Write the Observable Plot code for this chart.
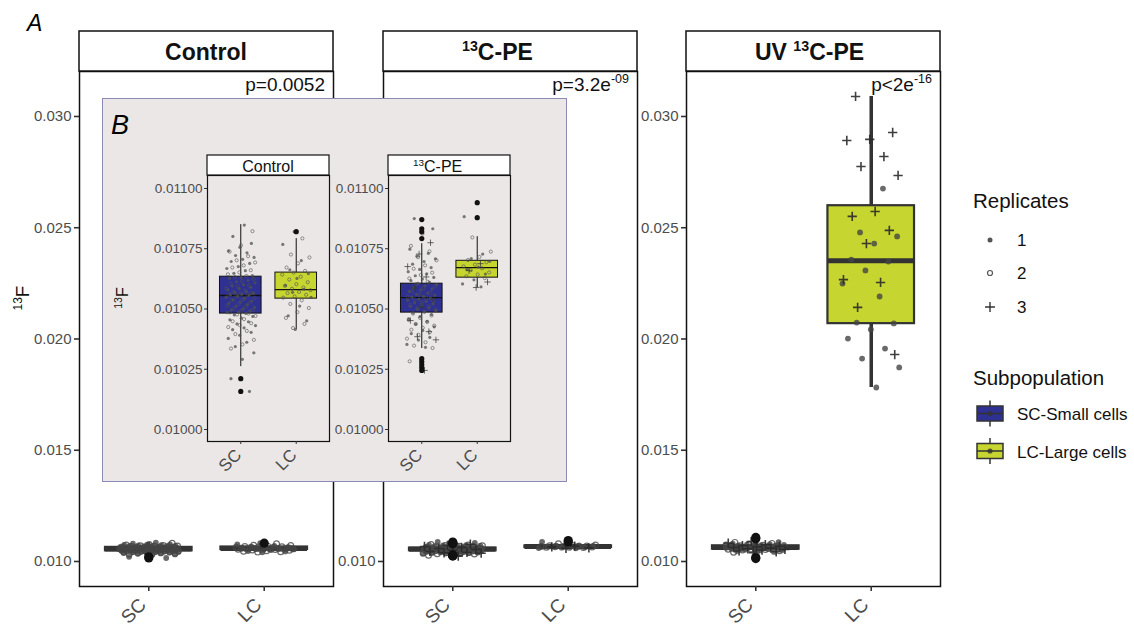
<!DOCTYPE html>
<html><head><meta charset="utf-8">
<script src="https://cdn.jsdelivr.net/npm/d3@7"></script>
<script src="https://cdn.jsdelivr.net/npm/@observablehq/plot@0.6"></script>
<style>
body{margin:0;background:#fff;}
#root{position:relative;width:1134px;height:628px;overflow:hidden;background:#fff;font-family:"Liberation Sans",Arial,Helvetica,sans-serif;}
</style></head><body><div id="root"></div>
<script>
// ---------------- DATA ----------------
const subpopulations = ["SC", "LC"];
const subpopulationLabels = ["SC-Small cells", "LC-Large cells"];
const subColors = ["#2E3192", "#C6D530"];
const treatments = ["Control", "13C-PE", "UV 13C-PE"];
const pValueText = ["p=0.0052", "p=3.2e", "p<2e"];
const pValueExp = ["", "-09", "-16"];
const replicates = ["1", "2", "3"];
const mainTicks = [0.010, 0.015, 0.020, 0.025, 0.030];
const insetTicks = [0.01000, 0.01025, 0.01050, 0.01075, 0.01100];

// groups: Control SC, Control LC, 13C-PE SC, 13C-PE LC, UV SC, UV LC
const groupTreatment = [0, 0, 1, 1, 2, 2];
const groupSub = [0, 1, 0, 1, 0, 1];
const boxQ1 =     [0.010481, 0.010543, 0.010485, 0.010630, 0.010555, 0.020690];
const boxMedian = [0.010556, 0.010580, 0.010547, 0.010672, 0.010630, 0.023520];
const boxQ3 =     [0.010634, 0.010651, 0.010605, 0.010700, 0.010705, 0.025990];
const whiskerLow =  [0.010261, 0.010415, 0.010336, 0.010589, 0.010396, 0.017820];
const whiskerHigh = [0.010850, 0.010792, 0.010771, 0.010800, 0.010894, 0.030900];
const outliers = [
  [0.010211, 0.010158],
  [0.010821],
  [0.010871, 0.010833, 0.010820, 0.010792, 0.010294, 0.010281, 0.010269, 0.010257, 0.010245],
  [0.010941, 0.010879],
  [0.011080, 0.011020, 0.010180, 0.010130],
  []
];

// jittered cells, by replicate
const controlSC_rep1 = [0.010848,0.010801,0.010772,0.010756,0.010741,0.010733,0.010722,0.010714,0.010706,0.010697,0.010689,0.010676,0.010668,0.010659,0.010648,0.010639,
  0.010631,0.010627,0.010619,0.010613,0.010608,0.010601,0.010596,0.010590,0.010584,0.010579,0.010573,0.010569,0.010565,0.010561,0.010559,0.010557,
  0.010553,0.010549,0.010544,0.010538,0.010533,0.010529,0.010523,0.010518,0.010512,0.010507,0.010501,0.010497,0.010492,0.010488,0.010485,0.010482,
  0.010476,0.010469,0.010462,0.010455,0.010447,0.010438,0.010431,0.010422,0.010414,0.010403,0.010391,0.010378,0.010362,0.010344,0.010318,0.010291,
  0.010211,0.010158];
const controlSC_rep2 = [0.010823,0.010764,0.010738,0.010719,0.010702,0.010693,0.010681,0.010672,0.010661,0.010652,0.010644,0.010637,
  0.010632,0.010624,0.010616,0.010606,0.010598,0.010593,0.010586,0.010577,0.010571,0.010566,0.010563,0.010560,0.010558,
  0.010554,0.010547,0.010541,0.010536,0.010527,0.010521,0.010515,0.010509,0.010503,0.010495,0.010490,0.010486,0.010481,
  0.010477,0.010471,0.010458,0.010449,0.010441,0.010433,0.010425,0.010409,0.010396,0.010372,0.010353,0.010336];
const controlLC_rep1 = [0.010821,0.010768,0.010701,0.010662,0.010647,0.010627,0.010598,0.010582,0.010569,0.010548,0.010512,0.010472,0.010451,0.010415];
const controlLC_rep2 = [0.010793,0.010726,0.010714,0.010689,0.010672,0.010658,0.010651,0.010643,0.010634,0.010622,0.010611,0.010603,0.010596,0.010589,
  0.010584,0.010578,0.010571,0.010566,0.010559,0.010552,0.010547,0.010536,0.010521,0.010504,0.010487,0.010463,0.010438,0.010421];
const pe13SC_rep1 = [0.010875,0.010833,0.010822,0.010748,0.010731,0.010719,0.010708,0.010697,0.010686,0.010672,0.010664,0.010655,0.010646,0.010638,
  0.010631,0.010624,0.010618,0.010611,0.010606,0.010601,0.010596,0.010589,0.010583,0.010578,0.010572,0.010566,0.010561,0.010557,0.010552,0.010549,
  0.010545,0.010541,0.010536,0.010531,0.010526,0.010521,0.010516,0.010511,0.010505,0.010499,0.010494,0.010489,0.010484,0.010477,0.010468,0.010459,
  0.010449,0.010437,0.010426,0.010411,0.010398,0.010382,0.010371,0.010353,0.010341];
const pe13SC_rep2 = [0.010812,0.010762,0.010739,0.010715,0.010702,0.010681,0.010667,0.010651,0.010641,0.010627,0.010613,0.010603,0.010594,0.010586,
  0.010575,0.010568,0.010559,0.010551,0.010546,0.010539,0.010533,0.010527,0.010518,0.010512,0.010503,0.010496,0.010488,0.010481,0.010473,0.010463,
  0.010455,0.010446,0.010438,0.010431,0.010422,0.010414,0.010404,0.010393,0.010377,0.010362,0.010348,0.010338,0.010287,0.010283];
const pe13SC_rep3 = [0.010775,0.010728,0.010676,0.010633,0.010587,0.010543,0.010508,0.010452,0.010406,0.010385,0.010372,0.010245];
const pe13LC_rep1 = [0.010883,0.010728,0.010709,0.010698,0.010674,0.010664,0.010645,0.010621,0.010604,0.010592];
const pe13LC_rep2 = [0.010797,0.010738,0.010716,0.010703,0.010694,0.010684,0.010677,0.010669,0.010661,0.010652,0.010643,0.010636,0.010628];
const pe13LC_rep3 = [0.010688,0.010659,0.010612,0.010589];
const uvSC_rep1 = [0.010872,0.010841,0.010803,0.010781,0.010762,0.010749,0.010733,0.010721,0.010712,0.010701,0.010692,0.010681,0.010672,0.010661,0.010652,
  0.010643,0.010636,0.010627,0.010618,0.010609,0.010598,0.010587,0.010574,0.010563,0.010552,0.010538,0.010521,0.010497,0.010468,0.010431];
const uvSC_rep2 = [0.010857,0.010812,0.010774,0.010745,0.010727,0.010708,0.010694,0.010677,0.010664,0.010648,0.010633,0.010621,0.010606,0.010594,0.010581,
  0.010566,0.010553,0.010541,0.010519,0.010488,0.010452,0.010413];
const uvSC_rep3 = [0.010894,0.010826,0.010758,0.010716,0.010685,0.010657,0.010629,0.010602,0.010571,0.010546,0.010507,0.010474,0.010438,0.010396];
const uvLC_rep1 = [0.02676,0.02479,0.02461,0.02429,0.02357,0.02348,0.02308,0.02249,0.02191,0.02074,0.02070,0.02043,0.02002,0.01957,0.01912,0.01872,0.01782];
const uvLC_rep3 = [0.03090,0.02928,0.02897,0.02892,0.02820,0.02775,0.02735,0.02573,0.02551,0.02488,0.02429,0.02267,0.02254,0.02142,0.01930];

const groupPoints = [
  [controlSC_rep1, controlSC_rep2, []],
  [controlLC_rep1, controlLC_rep2, []],
  [pe13SC_rep1, pe13SC_rep2, pe13SC_rep3],
  [pe13LC_rep1, pe13LC_rep2, pe13LC_rep3],
  [uvSC_rep1, uvSC_rep2, uvSC_rep3],
  [uvLC_rep1, [], uvLC_rep3]
];

// ---------------- DRAWING ----------------
const FONT = '"Liberation Sans", Arial, Helvetica, sans-serif';
const root = document.getElementById("root");
function place(el, left, top) {
  el.style.position = "absolute"; el.style.left = left + "px"; el.style.top = top + "px";
  root.appendChild(el);
}
// deterministic jitter (horizontal spread only)
function jitter(i, seed, w) {
  const u = ((i + 1) * 0.6180339887 + seed * 0.2718281) % 1;
  return (u - 0.5) * 2 * w;
}

function panelPlot(t, c) {
  const gs = [0, 1, 2, 3, 4, 5].filter(g => groupTreatment[g] === t);
  const boxes = gs.map(g => ({x: groupSub[g] + 1, q1: boxQ1[g], med: boxMedian[g], q3: boxQ3[g],
    lo: whiskerLow[g], hi: whiskerHigh[g], fill: subColors[groupSub[g]]}));
  const outs = gs.flatMap(g => outliers[g].map(v => ({x: groupSub[g] + 1, v})));
  const pts = gs.flatMap(g => groupPoints[g].flatMap((arr, r) =>
    arr.map((v, i) => ({x: groupSub[g] + 1 + jitter(i, g * 3 + r, c.jit), v, rep: r}))));
  const half = 0.375;
  return Plot.plot({
    width: c.w + c.mL + c.mR, height: c.h + c.mT + c.mB,
    marginLeft: c.mL, marginRight: c.mR, marginTop: c.mT, marginBottom: c.mB,
    style: {background: "transparent", fontFamily: FONT, overflow: "visible"},
    x: {domain: [0.4, 2.6]},
    y: {domain: c.yDomain},
    color: {type: "identity"},
    marks: [
      Plot.ruleX(boxes, {x: "x", y1: "q3", y2: "hi", stroke: c.line, strokeWidth: c.whiskerW}),
      Plot.ruleX(boxes, {x: "x", y1: "lo", y2: "q1", stroke: c.line, strokeWidth: c.whiskerW}),
      Plot.rect(boxes, {x1: d => d.x - half, x2: d => d.x + half, y1: "q1", y2: "q3", fill: "fill",
        stroke: c.line, strokeWidth: c.boxW}),
      Plot.ruleY(boxes, {y: "med", x1: d => d.x - half, x2: d => d.x + half, stroke: c.line, strokeWidth: c.medW}),
      Plot.dot(pts.filter(d => d.rep === 0), {x: "x", y: "v", r: c.ptR, fill: c.ptColor, fillOpacity: c.ptOpacity, stroke: "none"}),
      Plot.dot(pts.filter(d => d.rep === 1), {x: "x", y: "v", r: c.ptR, fill: "none", stroke: c.ptColor, strokeOpacity: c.ptOpacity, strokeWidth: c.ptStroke}),
      Plot.dot(pts.filter(d => d.rep === 2), {x: "x", y: "v", r: c.plusR, symbol: "plus", fill: "none", stroke: c.plusColor, strokeOpacity: 0.9, strokeWidth: c.plusStroke}),
      Plot.dot(outs, {x: "x", y: "v", r: c.outR, fill: "#111", stroke: "none"}),
      Plot.frame({stroke: "#111", strokeWidth: c.frameW}),
      Plot.axisY({ticks: c.ticks, tickFormat: d3.format(c.fmt), tickSize: c.tickSize, tickPadding: c.tickPad,
        fontSize: c.tickFont, fill: "#4d4d4d", stroke: "#333", strokeWidth: c.tickW, label: null}),
      Plot.axisX({ticks: [1, 2], tickFormat: () => "", tickSize: c.tickSize, stroke: "#333", strokeWidth: c.tickW, label: null}),
      Plot.text([1, 2], {x: d => d, frameAnchor: "bottom", dx: c.xDx, dy: c.xDy, text: d => subpopulations[d - 1], rotate: -45,
        textAnchor: "end", lineAnchor: "top", fontSize: c.xFont, fill: "#4d4d4d"})
    ]
  });
}

// main panels (A)
const mainLeft = [79, 383, 686];
const mainCfg = {w: 254, h: 515, mL: 56, mR: 2, mT: 2, mB: 42, yDomain: [0.008876, 0.032022],
  line: "#333", whiskerW: 3.5, boxW: 2.2, medW: 5, ptR: 2.9, ptColor: "#454545", ptOpacity: 0.8, ptStroke: 1.2,
  plusR: 3.1, plusColor: "#2a2a2a", plusStroke: 1.6, outR: 4.6, frameW: 1.5, ticks: mainTicks, fmt: ".3f",
  tickSize: 5, tickPad: 3, tickFont: 15, tickW: 1.6, xDx: -11, xDy: 10, xFont: 19, jit: 0.26};
treatments.forEach((tr, t) => place(panelPlot(t, mainCfg), mainLeft[t] - mainCfg.mL, 71 - mainCfg.mT));

// inset (B)
const inset = document.createElement("div");
Object.assign(inset.style, {width: "465px", height: "384px", background: "#EBE7E7", border: "1px solid #8A8AB6", boxSizing: "border-box"});
place(inset, 102, 98);
const insetLeft = [207, 388];
const insetCfg = {w: 122, h: 266, mL: 58, mR: 1, mT: 1, mB: 42, yDomain: [0.0099502, 0.0110539],
  line: "#111", whiskerW: 1, boxW: 1, medW: 1.3, ptR: 1.6, ptColor: "#505050", ptOpacity: 0.75, ptStroke: 0.8,
  plusR: 2.2, plusColor: "#333", plusStroke: 0.8, outR: 2.6, frameW: 1.2, ticks: insetTicks, fmt: ".5f",
  tickSize: 3, tickPad: 2, tickFont: 13.5, tickW: 1, xDx: -7, xDy: 6, xFont: 17, jit: 0.27};
[0, 1].forEach(t => place(panelPlot(t, insetCfg), insetLeft[t] - insetCfg.mL, 175 - insetCfg.mT));

// overlay: titles, strips, p-values, legend
const ov = d3.create("svg").attr("width", 1134).attr("height", 628)
  .style("font-family", FONT).style("overflow", "visible");
function richText(g, x, y, label, opts) {
  const parts = label.split(/(13)(?=C)/).filter(s => s !== "");
  const txt = g.append("text").attr("x", x).attr("y", y).attr("text-anchor", opts.anchor || "start")
    .attr("font-size", opts.size).attr("font-weight", opts.weight || "normal").attr("fill", opts.fill || "#111");
  let raised = false;
  parts.forEach(p => {
    const isSup = p === "13";
    const ts = txt.append("tspan").text(p);
    if (isSup && !raised) { ts.attr("font-size", opts.size * 0.62).attr("dy", -opts.size * 0.38); raised = true; }
    else if (!isSup && raised) { ts.attr("dy", opts.size * 0.38); raised = false; }
  });
  return txt;
}
// panel tag A
ov.append("text").attr("x", 27).attr("y", 31).attr("font-size", 23).attr("font-style", "italic").text("A");
// main strips
const stripTextX = [206, 462, 755];
const stripAnchor = ["middle", "start", "start"];
treatments.forEach((tr, t) => {
  ov.append("rect").attr("x", mainLeft[t]).attr("y", 31).attr("width", 254).attr("height", 40)
    .attr("fill", "#fff").attr("stroke", "#111").attr("stroke-width", 1.5);
  richText(ov, stripTextX[t], 59.5, tr, {size: 23, weight: "bold", anchor: stripAnchor[t]});
  // p-values
  const pt = ov.append("text").attr("x", mainLeft[t] + 246).attr("y", 91).attr("text-anchor", "end")
    .attr("font-size", 19).attr("fill", "#111");
  pt.append("tspan").text(pValueText[t]);
  if (pValueExp[t]) pt.append("tspan").attr("font-size", 12.5).attr("dy", -8).text(pValueExp[t]);
});
// main y title
const yt = ov.append("text").attr("transform", "translate(29,298) rotate(-90)").attr("text-anchor", "middle")
  .attr("font-size", 19).attr("fill", "#111");
yt.append("tspan").attr("font-size", 12).attr("dy", -7).text("13");
yt.append("tspan").attr("dy", 7).text("F");
// inset tag B
ov.append("text").attr("x", 111).attr("y", 134).attr("font-size", 27).attr("font-style", "italic").text("B");
// inset strips
const insetStripX = [268, 413];
const insetStripAnchor = ["middle", "start"];
[0, 1].forEach(t => {
  ov.append("rect").attr("x", insetLeft[t]).attr("y", 155).attr("width", 122).attr("height", 20)
    .attr("fill", "#fff").attr("stroke", "#111").attr("stroke-width", 1.2);
  richText(ov, insetStripX[t], 172, treatments[t], {size: 16, anchor: insetStripAnchor[t]});
});
// inset y title
const iyt = ov.append("text").attr("transform", "translate(128,298) rotate(-90)").attr("text-anchor", "middle")
  .attr("font-size", 16).attr("fill", "#111");
iyt.append("tspan").attr("font-size", 10.5).attr("dy", -6).text("13");
iyt.append("tspan").attr("dy", 6).text("F");

// legend
const lg = ov.append("g");
lg.append("text").attr("x", 973).attr("y", 208).attr("font-size", 20.5).attr("fill", "#111").text("Replicates");
const repY = [240, 273, 307];
replicates.forEach((r, i) => {
  const cy = repY[i];
  if (i === 0) lg.append("circle").attr("cx", 990).attr("cy", cy).attr("r", 2.5).attr("fill", "#555");
  if (i === 1) lg.append("circle").attr("cx", 990).attr("cy", cy).attr("r", 2.5).attr("fill", "none").attr("stroke", "#555").attr("stroke-width", 1.2);
  if (i === 2) lg.append("path").attr("d", d3.symbol(d3.symbolPlus, 34)()).attr("transform", `translate(990,${cy})`)
    .attr("fill", "none").attr("stroke", "#333").attr("stroke-width", 1.4);
  lg.append("text").attr("x", 1017).attr("y", cy + 6).attr("font-size", 17).attr("fill", "#111").text(r);
});
lg.append("text").attr("x", 973).attr("y", 385).attr("font-size", 20.5).attr("fill", "#111").text("Subpopulation");
const keyY = [413.5, 451];
subpopulationLabels.forEach((lab, i) => {
  const cy = keyY[i];
  lg.append("line").attr("x1", 990).attr("x2", 990).attr("y1", cy - 13).attr("y2", cy + 13).attr("stroke", "#333").attr("stroke-width", 1.5);
  lg.append("rect").attr("x", 977).attr("y", cy - 7.5).attr("width", 26).attr("height", 15)
    .attr("fill", subColors[i]).attr("stroke", "#333").attr("stroke-width", 1.5);
  lg.append("line").attr("x1", 977).attr("x2", 1003).attr("y1", cy).attr("y2", cy).attr("stroke", "#333").attr("stroke-width", 1.5);
  lg.append("circle").attr("cx", 990).attr("cy", cy).attr("r", 2.6).attr("fill", "#333").attr("fill-opacity", 0.8);
  lg.append("text").attr("x", 1017).attr("y", cy + 6.5).attr("font-size", 17).attr("fill", "#111").text(lab);
});
place(ov.node(), 0, 0);
</script></body></html>
